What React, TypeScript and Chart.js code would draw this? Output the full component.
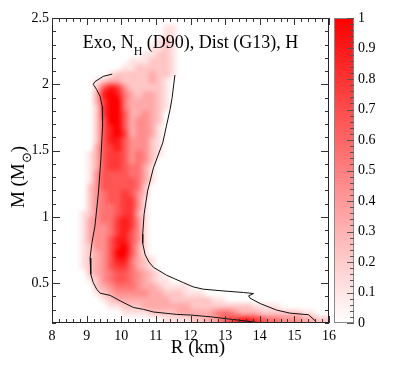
import React, { useEffect, useRef } from 'react';
import { Chart, registerables } from 'chart.js';

Chart.register(...registerables);

// ---- axis ticks ----
const X_TICKS = [8, 9, 10, 11, 12, 13, 14, 15, 16];
const Y_TICKS = [0.5, 1, 1.5, 2, 2.5];
const CB_TICKS = [0, 0.1, 0.2, 0.3, 0.4, 0.5, 0.6, 0.7, 0.8, 0.9, 1];

// ---- heat-map bins (R in km, M in solar masses) ----
const R_EDGES = [8, 8.2, 8.4, 8.6, 8.8, 9, 9.2, 9.4, 9.6, 9.8, 10, 10.2, 10.4, 10.6, 10.8, 11, 11.2, 11.4, 11.6, 11.8, 12, 12.2, 12.4, 12.6, 12.8, 13, 13.2, 13.4, 13.6, 13.8, 14, 14.2, 14.4, 14.6, 14.8, 15, 15.2, 15.4, 15.6, 15.8, 16];
const M_EDGES = [2.5, 2.45, 2.4, 2.35, 2.3, 2.25, 2.2, 2.15, 2.1, 2.05, 2.0, 1.95, 1.9, 1.85, 1.8, 1.75, 1.7, 1.65, 1.6, 1.55, 1.5, 1.45, 1.4, 1.35, 1.3, 1.25, 1.2, 1.15, 1.1, 1.05, 1.0, 0.95, 0.9, 0.85, 0.8, 0.75, 0.7, 0.65, 0.6, 0.55, 0.5, 0.45, 0.4, 0.35, 0.3, 0.25, 0.2];

// probability levels per cell, digit d => d/9 (rows top->bottom, columns left->right)
const DENSITY = [
  '',
  '000000000000000011',
  '000000000000000011',
  '000000000000000121',
  '000000000000001121',
  '000000000000011221',
  '000000000001112221',
  '000000000011222221',
  '000000001222223221',
  '00000012332222321',
  '00000026874222221',
  '00000038985323321',
  '00000037995333321',
  '00000027995333321',
  '0000002799633432',
  '0000002699634432',
  '0000002689634431',
  '0000002689734431',
  '0000002688644421',
  '0000003678644421',
  '0000013677645421',
  '000001367764542',
  '000001367765531',
  '000001466665531',
  '000001466666531',
  '00000246666652',
  '00000245667642',
  '00000245667741',
  '00000245567741',
  '00001245567731',
  '00001345578741',
  '00001344578741',
  '00001344578641',
  '00001344688641',
  '00001244689631',
  '00001234699631',
  '000012346885321',
  '000012346775321',
  '0000023456654321',
  '00000124566543211',
  '00000023455543321111',
  '0000001234444433222111',
  '0000000123333333322222211',
  '000000001122233333332222222221111',
  '00000000001111222233333455433322222211',
  '0000000000000000111122335678876554443322',
];

// ---- contour lines ----
const OUTER_R = [9.74, 9.48, 9.24, 9.19, 9.29, 9.39, 9.45, 9.46, 9.41, 9.34, 9.24, 9.15, 9.1, 9.12, 9.19, 9.29, 9.39, 9.68, 9.97, 10.35, 10.64, 10.93, 11.12, 11.6, 12.0, 12.57, 13.14, 13.6, 13.92, 14.1];
const OUTER_M = [2.077, 2.06, 2.02, 2.0, 1.96, 1.908, 1.833, 1.68, 1.43, 1.18, 0.93, 0.8, 0.69, 0.568, 0.505, 0.455, 0.425, 0.408, 0.367, 0.317, 0.303, 0.283, 0.278, 0.265, 0.26, 0.247, 0.229, 0.215, 0.204, 0.2];
const INNER_R = [11.55, 11.47, 11.41, 11.3, 11.2, 10.93, 10.76, 10.66, 10.62, 10.62, 10.69, 10.8, 10.93, 11.31, 11.79, 12.08, 12.37, 12.94, 13.53, 13.82, 13.68, 13.72, 14.01, 14.49, 14.88, 15.41, 15.6, 15.64];
const INNER_M = [2.07, 1.9, 1.81, 1.68, 1.56, 1.37, 1.194, 1.02, 0.87, 0.8, 0.715, 0.66, 0.62, 0.56, 0.505, 0.472, 0.455, 0.442, 0.43, 0.422, 0.405, 0.387, 0.347, 0.297, 0.274, 0.262, 0.217, 0.2];

const TITLE_MAIN_A = 'Exo, N';
const TITLE_SUB = 'H';
const TITLE_MAIN_B = ' (D90), Dist (G13), H';
const X_TITLE = 'R (km)';
const Y_TITLE_A = 'M (M';
const Y_TITLE_SUB = '\u2299';
const Y_TITLE_B = ')';

const SERIF = '"Liberation Serif", "Times New Roman", serif';

const decorPlugin = {
  id: 'decor',
  beforeDatasetsDraw(chart: any) {
    const { ctx, chartArea: a, scales } = chart;
    const x = scales.x, y = scales.y;
    const cols = R_EDGES.length - 1;
    const rows = M_EDGES.length - 1;
    const off = document.createElement('canvas');
    off.width = cols;
    off.height = rows;
    const octx = off.getContext('2d') as CanvasRenderingContext2D;
    const img = octx.createImageData(cols, rows);
    for (let r = 0; r < rows; r++) {
      const row = DENSITY[r] || '';
      for (let c = 0; c < cols; c++) {
        const d = c < row.length ? +row[c] : 0;
        const g = Math.round(255 * (1 - d / 9));
        const k = (r * cols + c) * 4;
        img.data[k] = 255; img.data[k + 1] = g; img.data[k + 2] = g; img.data[k + 3] = 255;
      }
    }
    octx.putImageData(img, 0, 0);
    const x0 = x.getPixelForValue(R_EDGES[0]);
    const x1 = x.getPixelForValue(R_EDGES[cols]);
    const y0 = y.getPixelForValue(M_EDGES[0]);
    const y1 = y.getPixelForValue(M_EDGES[rows]);
    ctx.save();
    ctx.beginPath();
    ctx.rect(a.left, a.top, a.right - a.left, a.bottom - a.top);
    ctx.clip();
    ctx.imageSmoothingEnabled = true;
    (ctx as any).imageSmoothingQuality = 'high';
    ctx.drawImage(off, x0, y0, x1 - x0, y1 - y0);
    ctx.restore();
  },
  afterDatasetsDraw(chart: any) {
    const { ctx, chartArea: a, scales } = chart;
    const x = scales.x, y = scales.y, cb = scales.cb;
    ctx.save();
    // frame
    ctx.strokeStyle = '#222';
    ctx.lineWidth = 1;
    ctx.strokeRect(a.left + 0.5, a.top + 0.5, a.right - a.left - 1, a.bottom - a.top - 1);
    // ticks
    ctx.strokeStyle = '#333';
    ctx.beginPath();
    for (let i = 0; i <= 40; i++) {
      const v = 8 + i / 5;
      const len = i % 5 === 0 ? 7 : 4;
      const px = Math.round(x.getPixelForValue(v)) + 0.5;
      ctx.moveTo(px, a.bottom); ctx.lineTo(px, a.bottom - len);
      ctx.moveTo(px, a.top); ctx.lineTo(px, a.top + len);
    }
    for (let i = 2; i <= 25; i++) {
      const v = i / 10;
      const len = i % 5 === 0 ? 8 : 4;
      const py = Math.round(y.getPixelForValue(v)) + 0.5;
      ctx.moveTo(a.left, py); ctx.lineTo(a.left + len, py);
      ctx.moveTo(a.right, py); ctx.lineTo(a.right - len, py);
    }
    ctx.stroke();

    // colorbar
    const cbTop = cb.getPixelForValue(1);
    const cbBot = cb.getPixelForValue(0);
    const cbL = a.right + 5;
    const cbR = a.right + 25;
    const grad = ctx.createLinearGradient(0, cbBot, 0, cbTop);
    grad.addColorStop(0, 'rgb(255,255,255)');
    grad.addColorStop(1, 'rgb(255,0,0)');
    ctx.fillStyle = grad;
    ctx.fillRect(cbL, cbTop, cbR - cbL, cbBot - cbTop);
    ctx.strokeStyle = '#888';
    ctx.strokeRect(cbL + 0.5, cbTop + 0.5, cbR - cbL - 1, cbBot - cbTop - 1);
    ctx.strokeStyle = '#555';
    ctx.beginPath();
    for (let i = 0; i <= 50; i++) {
      const v = i / 50;
      const len = i % 5 === 0 ? 7 : 4;
      const py = Math.round(cb.getPixelForValue(v)) + 0.5;
      ctx.moveTo(cbR, py); ctx.lineTo(cbR - len, py);
    }
    ctx.stroke();

    // texts
    ctx.fillStyle = '#000';
    ctx.textBaseline = 'alphabetic';
    ctx.textAlign = 'left';
    // title
    const mainF = `18px ${SERIF}`;
    const subF = `12px ${SERIF}`;
    ctx.font = mainF; const wA = ctx.measureText(TITLE_MAIN_A).width; const wB = ctx.measureText(TITLE_MAIN_B).width;
    ctx.font = subF; const wS = ctx.measureText(TITLE_SUB).width;
    const cx = (a.left + a.right) / 2;
    let tx = cx - (wA + wS + wB) / 2;
    const ty = 48;
    ctx.font = mainF; ctx.fillText(TITLE_MAIN_A, tx, ty); tx += wA;
    ctx.font = subF; ctx.fillText(TITLE_SUB, tx, ty + 7); tx += wS;
    ctx.font = mainF; ctx.fillText(TITLE_MAIN_B, tx, ty);

    // x title
    ctx.font = `19px ${SERIF}`;
    ctx.textAlign = 'center';
    ctx.fillText(X_TITLE, 198, 353);

    // y title (rotated)
    ctx.save();
    ctx.translate(23.5, 177);
    ctx.rotate(-Math.PI / 2);
    ctx.textAlign = 'left';
    const yMain = `19px ${SERIF}`;
    const ySub = `13px ${SERIF}`;
    ctx.font = yMain; const ya = ctx.measureText(Y_TITLE_A).width; const yb = ctx.measureText(Y_TITLE_B).width;
    ctx.font = ySub; const ys = ctx.measureText(Y_TITLE_SUB).width;
    let yx = -(ya + ys + yb) / 2;
    ctx.font = yMain; ctx.fillText(Y_TITLE_A, yx, 0); yx += ya;
    ctx.font = ySub; ctx.fillText(Y_TITLE_SUB, yx, 7.5); yx += ys;
    ctx.font = yMain; ctx.fillText(Y_TITLE_B, yx, 0);
    ctx.restore();

    ctx.restore();
  },
};

const noPadV = (w: number) => (s: any) => { s.width = w; s.paddingTop = 0; s.paddingBottom = 0; };

export default function App() {
  const ref = useRef<HTMLCanvasElement | null>(null);
  useEffect(() => {
    if (!ref.current) return;
    const tickFont = { family: SERIF, size: 14 };
    const chart = new Chart(ref.current, {
      type: 'scatter',
      data: {
        datasets: [
          {
            data: OUTER_R.map((r, i) => ({ x: r, y: OUTER_M[i] })),
            showLine: true, borderColor: '#111', borderWidth: 1, pointRadius: 0, fill: false,
          },
          {
            data: INNER_R.map((r, i) => ({ x: r, y: INNER_M[i] })),
            showLine: true, borderColor: '#111', borderWidth: 1, pointRadius: 0, fill: false,
          },
        ],
      },
      options: {
        animation: false,
        responsive: false,
        events: [],
        layout: { padding: { top: 18, left: 0, right: 0, bottom: 0 }, autoPadding: false },
        plugins: { legend: { display: false }, tooltip: { enabled: false }, title: { display: false } },
        scales: {
          x: {
            type: 'linear', position: 'bottom', min: 8, max: 16,
            grid: { display: false, drawTicks: false }, border: { display: false },
            ticks: { font: tickFont, color: '#000', padding: 5, autoSkip: false, maxRotation: 0, callback: (v: any) => String(v) },
            afterBuildTicks: (s: any) => { s.ticks = X_TICKS.map((value) => ({ value })); },
            afterFit: (s: any) => { s.height = 45; s.paddingLeft = 0; s.paddingRight = 0; },
          },
          y: {
            type: 'linear', position: 'left', min: 0.2, max: 2.5,
            grid: { display: false, drawTicks: false }, border: { display: false },
            ticks: { font: tickFont, color: '#000', padding: 3, autoSkip: false, callback: (v: any) => String(v) },
            afterBuildTicks: (s: any) => { s.ticks = Y_TICKS.map((value) => ({ value })); },
            afterFit: noPadV(52),
          },
          cb: {
            axis: 'y', type: 'linear', position: 'right', min: 0, max: 1,
            grid: { display: false, drawTicks: false }, border: { display: false },
            ticks: { font: tickFont, color: '#000', padding: 29, autoSkip: false, callback: (v: any) => String(Math.round(v * 10) / 10) },
            afterBuildTicks: (s: any) => { s.ticks = CB_TICKS.map((value) => ({ value })); },
            afterFit: noPadV(78),
          },
        },
      } as any,
      plugins: [decorPlugin],
    });
    return () => chart.destroy();
  }, []);
  return (
    <div style={{ position: 'fixed', left: 0, top: 0, width: 407, height: 368, background: '#fff' }}>
      <canvas ref={ref} width={407} height={368} style={{ width: 407, height: 368, display: 'block' }} />
    </div>
  );
}
